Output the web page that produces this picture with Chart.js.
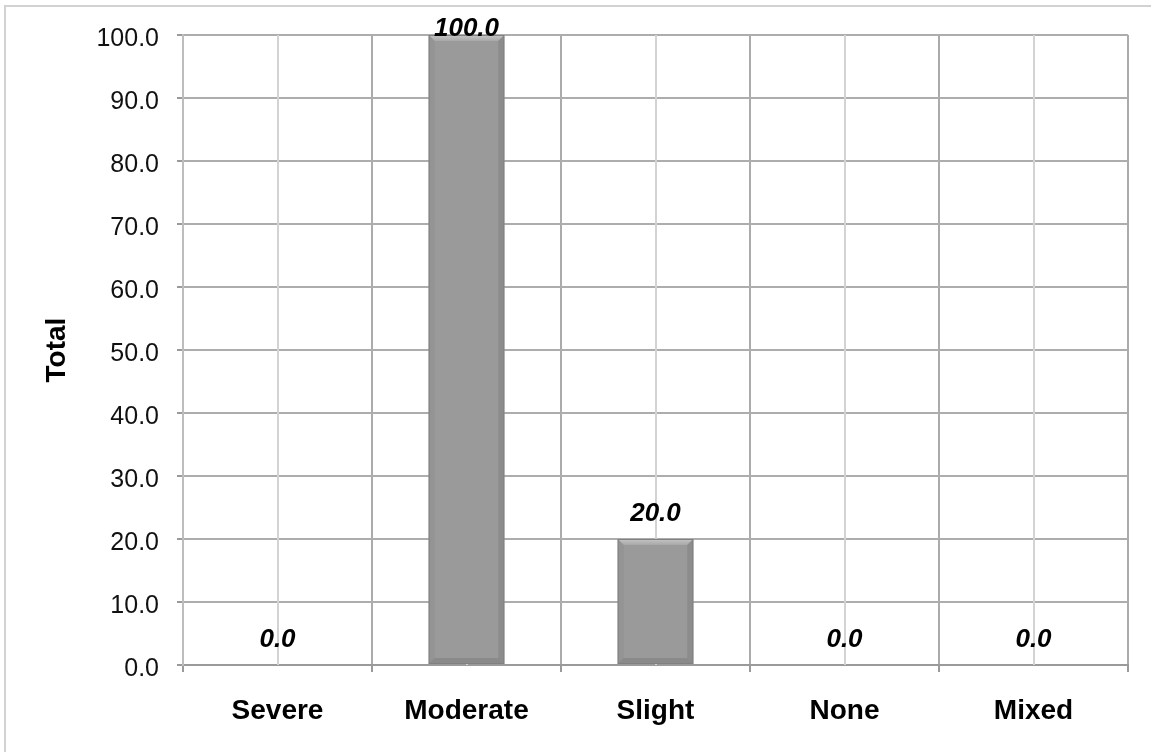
<!DOCTYPE html>
<html>
<head>
<meta charset="utf-8">
<script src="https://cdn.jsdelivr.net/npm/chart.js@4.4.1/dist/chart.umd.min.js"></script>
<style>
  html, body { margin: 0; padding: 0; background: #fff; }
  canvas { display: block; }
</style>
</head>
<body>
<canvas id="chart" width="1151" height="752"></canvas>
<script>
const categories = ['Severe', 'Moderate', 'Slight', 'None', 'Mixed'];
const totals = [0.0, 100.0, 20.0, 0.0, 0.0];
const yMin = 0;
const yMax = 100;
const yStep = 10;
const yTitle = 'Total';

const FONT = '"Liberation Sans", Arial, Helvetica, sans-serif';

// white page with thin grey frame on top + left, like the exported image
const framePlugin = {
  id: 'frame',
  beforeDraw(chart) {
    const ctx = chart.ctx;
    ctx.save();
    ctx.fillStyle = '#fff';
    ctx.fillRect(0, 0, chart.width, chart.height);
    ctx.strokeStyle = '#d2d2d2';
    ctx.lineWidth = 2;
    ctx.beginPath();
    ctx.moveTo(5, chart.height);
    ctx.lineTo(5, 6);
    ctx.lineTo(chart.width, 6);
    ctx.stroke();
    ctx.restore();
  }
};

// lighter vertical lines through the middle of each category
const centerGrid = {
  id: 'centerGrid',
  beforeDatasetsDraw(chart) {
    const { ctx, chartArea, scales } = chart;
    ctx.save();
    ctx.strokeStyle = '#d3d3d3';
    ctx.lineWidth = 2;
    categories.forEach((c, i) => {
      const x = Math.round(scales.x.getPixelForValue(i));
      ctx.beginPath();
      ctx.moveTo(x, chartArea.top);
      ctx.lineTo(x, chartArea.bottom);
      ctx.stroke();
    });
    ctx.restore();
  }
};

// bevelled look of the bars + bold italic value labels
const barDeco = {
  id: 'barDeco',
  afterDatasetsDraw(chart) {
    const ctx = chart.ctx;
    const meta = chart.getDatasetMeta(0);
    ctx.save();
    meta.data.forEach((el, i) => {
      const { x, y, base, width } = el.getProps(['x', 'y', 'base', 'width'], true);
      const l = x - width / 2, r = x + width / 2, t = y, b = base;
      if (b - t > 12) {
        const d = 6;
        // top highlight
        const g = ctx.createLinearGradient(0, t, 0, t + d);
        g.addColorStop(0, '#c6c6c6');
        g.addColorStop(1, '#a8a8a8');
        ctx.fillStyle = g;
        ctx.beginPath();
        ctx.moveTo(l, t); ctx.lineTo(r, t); ctx.lineTo(r - d, t + d); ctx.lineTo(l + d, t + d);
        ctx.closePath(); ctx.fill();
        // left side
        ctx.fillStyle = 'rgba(146,146,146,0.8)';
        ctx.beginPath();
        ctx.moveTo(l, t); ctx.lineTo(l + d, t + d); ctx.lineTo(l + d, b - d); ctx.lineTo(l, b);
        ctx.closePath(); ctx.fill();
        // right side
        ctx.fillStyle = 'rgba(136,136,136,0.8)';
        ctx.beginPath();
        ctx.moveTo(r, t); ctx.lineTo(r - d, t + d); ctx.lineTo(r - d, b - d); ctx.lineTo(r, b);
        ctx.closePath(); ctx.fill();
        // bottom
        ctx.fillStyle = 'rgba(134,134,134,0.8)';
        ctx.beginPath();
        ctx.moveTo(l, b); ctx.lineTo(l + d, b - d); ctx.lineTo(r - d, b - d); ctx.lineTo(r, b);
        ctx.closePath(); ctx.fill();
        ctx.strokeStyle = '#808080';
        ctx.lineWidth = 1;
        ctx.strokeRect(l + 0.5, t + 0.5, width - 1, b - t - 1);
      }
      // value label
      ctx.fillStyle = '#000';
      ctx.font = 'italic bold 26px ' + FONT;
      ctx.textAlign = 'center';
      ctx.textBaseline = 'middle';
      const ly = Math.max(y - 25, 29);
      ctx.fillText(totals[i].toFixed(1), x, ly);
    });
    ctx.restore();
  }
};

new Chart(document.getElementById('chart'), {
  type: 'bar',
  data: {
    labels: categories,
    datasets: [{
      label: yTitle,
      data: totals,
      backgroundColor: '#9a9a9a',
      borderWidth: 0,
      categoryPercentage: 1.0,
      barPercentage: 0.4,
    }]
  },
  options: {
    responsive: false,
    animation: false,
    events: [],
    layout: { padding: { left: 0, top: 35, right: 23, bottom: 0 } },
    plugins: {
      legend: { display: false },
      tooltip: { enabled: false },
    },
    scales: {
      x: {
        offset: true,
        afterFit: s => { s.height = 87; },
        grid: {
          offset: true,
          color: '#ababab',
          lineWidth: 2,
          tickLength: 7,
          tickColor: '#9a9a9a',
        },
        border: { display: true, color: '#9a9a9a', width: 2 },
        ticks: {
          color: '#000',
          padding: 22,
          font: { family: FONT, size: 28, weight: 'bold' },
          maxRotation: 0,
          autoSkip: false,
        },
      },
      y: {
        min: yMin,
        max: yMax,
        afterFit: s => { s.width = 183; },
        grid: {
          color: '#adadad',
          lineWidth: 2,
          tickLength: 6,
          tickColor: '#9a9a9a',
        },
        border: { display: true, color: '#bdbdbd', width: 2 },
        ticks: {
          stepSize: yStep,
          color: '#111',
          padding: 18,
          labelOffset: 4,
          font: { family: FONT, size: 25 },
          callback: v => Number(v).toFixed(1),
        },
        title: {
          display: true,
          text: yTitle,
          color: '#000',
          font: { family: FONT, size: 28, weight: 'bold' },
          padding: { top: 40, bottom: 0 },
        },
      },
    },
  },
  plugins: [framePlugin, centerGrid, barDeco],
});
</script>
</body>
</html>
